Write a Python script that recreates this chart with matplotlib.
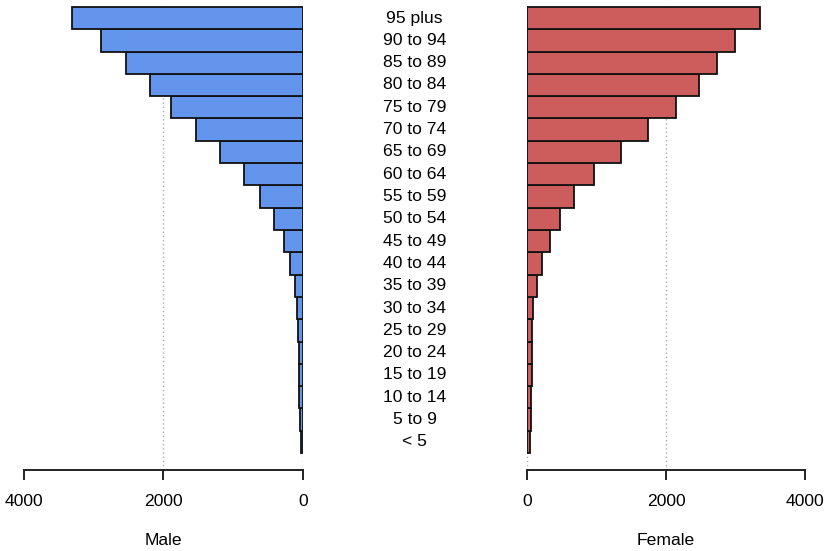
import matplotlib
matplotlib.use("Agg")
import matplotlib.pyplot as plt
from matplotlib.transforms import blended_transform_factory

plt.rcParams['font.family'] = ['Liberation Sans', 'DejaVu Sans']

age_groups = ["< 5", "5 to 9", "10 to 14", "15 to 19", "20 to 24", "25 to 29",
              "30 to 34", "35 to 39", "40 to 44", "45 to 49", "50 to 54", "55 to 59",
              "60 to 64", "65 to 69", "70 to 74", "75 to 79", "80 to 84", "85 to 89",
              "90 to 94", "95 plus"]
male = [24, 43, 53, 53, 53, 67, 86, 115, 187, 273, 417, 609, 845, 1180, 1525,
        1895, 2197, 2532, 2896, 3314]
female = [43, 57, 62, 77, 77, 77, 91, 139, 216, 331, 470, 676, 964, 1348, 1746,
          2139, 2480, 2729, 2998, 3353]
ticks = [0, 2000, 4000]
grid_vals = [0, 2000]

W, H = 829, 551
fig = plt.figure(figsize=(W / 100, H / 100), dpi=100)

top_px, bot_px = 4, 470
b = 1 - bot_px / H
h = (bot_px - top_px) / H
axL = fig.add_axes([24 / W, b, (302.7 - 24) / W, h])
axR = fig.add_axes([527 / W, b, (805 - 527) / W, h])

ypos = list(range(len(age_groups)))
ylim = (-1.26, 19.63)

for ax, vals, color, lab in [(axL, male, "#6495ED", "Male"),
                             (axR, female, "#CD5C5C", "Female")]:
    for g in grid_vals:
        ax.axvline(g, color="#aaaaaa", linestyle=(0, (1, 2)), linewidth=1.0, zorder=0)
    ax.barh(ypos, vals, height=1.0, color=color, edgecolor="#111111",
            linewidth=1.3, zorder=2)
    ax.set_ylim(*ylim)
    ax.set_yticks([])
    for s in ["top", "left", "right"]:
        ax.spines[s].set_visible(False)
    ax.spines["bottom"].set_linewidth(1.4)
    ax.spines["bottom"].set_color("#222222")
    ax.set_xticks(ticks)
    ax.set_xticklabels([str(t) for t in ticks])
    ax.tick_params(axis="x", length=7.5, width=1.4, color="#222222",
                   labelsize=12.6, pad=10)
    ax.set_xlabel(lab, fontsize=12.6, labelpad=17)

axL.set_xlim(4000, 0)
axR.set_xlim(0, 4000)

tr = blended_transform_factory(fig.transFigure, axL.transData)
for y, lab in zip(ypos, age_groups):
    fig.text(414.7 / W, y, lab, transform=tr, ha="center", va="center",
             fontsize=12.6)

fig.savefig("out.png", dpi=100)
